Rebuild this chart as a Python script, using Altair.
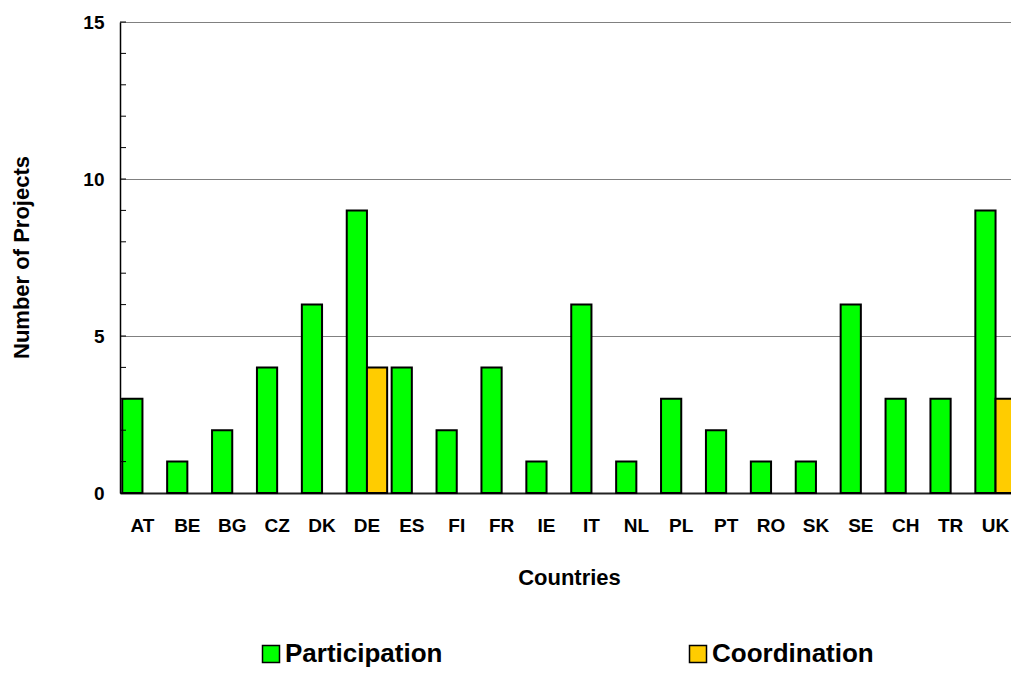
import altair as alt
import pandas as pd

countries = ["AT", "BE", "BG", "CZ", "DK", "DE", "ES", "FI", "FR", "IE",
             "IT", "NL", "PL", "PT", "RO", "SK", "SE", "CH", "TR", "UK"]
participation = [3, 1, 2, 4, 6, 9, 4, 2, 4, 1, 6, 1, 3, 2, 1, 1, 6, 3, 3, 9]
coordination = [0, 0, 0, 0, 0, 4, 0, 0, 0, 0, 0, 0, 0, 0, 0, 0, 0, 0, 0, 3]
series = ["Participation", "Coordination"]
colors = ["#00FF00", "#FFCC00"]
y_minor_ticks = list(range(16))
y_labels = [0, 5, 10, 15]

rows = []
for c, p, k in zip(countries, participation, coordination):
    if p > 0:
        rows.append({"Country": c, "Series": "Participation", "Projects": p})
    if k > 0:
        rows.append({"Country": c, "Series": "Coordination", "Projects": k})
df = pd.DataFrame(rows)
ticks_df = pd.DataFrame({"v": y_minor_ticks})

FONT = "Liberation Sans"

bars = alt.Chart(df).mark_bar(stroke="black", strokeWidth=2).encode(
    x=alt.X("Country:N", sort=countries,
            scale=alt.Scale(domain=countries, range=[0, 898],
                            paddingInner=0.1, paddingOuter=0.05),
            axis=alt.Axis(title="Countries", labelAngle=0, ticks=False,
                          domainColor="#222222", domainWidth=2,
                          labelFont=FONT, labelFontSize=19, labelFontWeight="bold",
                          labelColor="black", labelPadding=23,
                          titleFont=FONT, titleFontSize=22, titleFontWeight="bold",
                          titleColor="black", titleY=84, titleBaseline="middle")),
    xOffset=alt.XOffset("Series:N", sort=series,
                        scale=alt.Scale(domain=series, paddingInner=0, paddingOuter=0)),
    y=alt.Y("Projects:Q", scale=alt.Scale(domain=[0, 15], nice=False),
            axis=alt.Axis(values=y_labels, title="Number of Projects", ticks=False,
                          grid=True, gridColor="#808080", gridWidth=1,
                          domainColor="black", domainWidth=1.5,
                          labelFont=FONT, labelFontSize=19, labelFontWeight="bold",
                          labelColor="black", labelPadding=16,
                          titleFont=FONT, titleFontSize=22, titleFontWeight="bold",
                          titleColor="black", titleX=-99, titleY=235,
                          titleBaseline="middle", titleAlign="center")),
    color=alt.Color("Series:N", sort=series,
                    scale=alt.Scale(domain=series, range=colors),
                    legend=alt.Legend(title=None, orient="none", legendX=138, legendY=619,
                                      direction="horizontal", columns=2, columnPadding=242,
                                      padding=0, labelLimit=400,
                                      symbolType="square", symbolSize=289,
                                      symbolStrokeColor="black", symbolStrokeWidth=1.5,
                                      symbolOpacity=1, labelOffset=1,
                                      labelFont=FONT, labelFontSize=26,
                                      labelFontWeight="bold", labelColor="black")),
)

minor = alt.Chart(ticks_df).mark_rule(color="black", strokeWidth=1).encode(
    y=alt.Y("v:Q"),
    x=alt.value(0),
    x2=alt.value(6),
)

chart = alt.layer(bars, minor).properties(
    width=891, height=471,
    autosize=alt.AutoSizeParams(type="none"),
    padding={"left": 112, "top": 14, "right": 0, "bottom": 174},
).configure_view(stroke=None).configure(background="white")

chart.save("out.html", embed_options={"renderer": "svg", "actions": False})
